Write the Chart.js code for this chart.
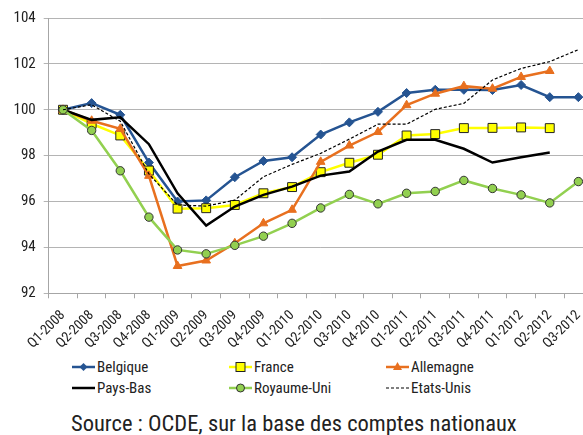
<!DOCTYPE html>
<html>
<head>
<meta charset="utf-8">
<script src="https://cdn.jsdelivr.net/npm/chart.js@4"></script>
<style>
  html, body { margin: 0; padding: 0; background: #fff; }
  body { width: 583px; height: 435px; overflow: hidden; position: relative;
         font-family: 'Liberation Sans Narrow', 'Arial Narrow', 'Roboto Condensed', sans-serif; color: #222; }
  #wrap { position: absolute; left: 0; top: 0; width: 600px; height: 352px; }
  .leg { position: absolute; font-size: 15px; line-height: 18px; white-space: nowrap; }
  .leg svg { position: absolute; left: -25px; top: 0; }
  #source { position: absolute; left: 71px; top: 410px; font-size: 22.5px; white-space: nowrap; color: #222; }
</style>
</head>
<body>
<div id="wrap"><canvas id="c" width="600" height="352"></canvas></div>

<div class="leg" style="left:97px;top:358px"><svg width="24" height="18"><line x1="0" y1="9" x2="23" y2="9" stroke="#255492" stroke-width="2.5"/><polygon points="11.5,5 15.5,9 11.5,13 7.5,9" fill="#255492"/></svg>Belgique</div>
<div class="leg" style="left:254px;top:358px"><svg width="24" height="18"><line x1="0" y1="9" x2="23" y2="9" stroke="#ffff00" stroke-width="2.5"/><rect x="7" y="4.5" width="9" height="9" fill="#ffff00" stroke="#222" stroke-width="1"/></svg>France</div>
<div class="leg" style="left:411px;top:358px"><svg width="24" height="18"><line x1="0" y1="9" x2="23" y2="9" stroke="#e8701f" stroke-width="2.5"/><polygon points="11.5,4 16,12 7,12" fill="#e8701f"/></svg>Allemagne</div>
<div class="leg" style="left:97px;top:379px"><svg width="24" height="18"><line x1="0" y1="9" x2="23" y2="9" stroke="#000" stroke-width="2.5"/></svg>Pays-Bas</div>
<div class="leg" style="left:254px;top:379px"><svg width="24" height="18"><line x1="0" y1="9" x2="23" y2="9" stroke="#92d050" stroke-width="2.5"/><circle cx="11.5" cy="9" r="4" fill="#92d050" stroke="#333" stroke-width="1"/></svg>Royaume-Uni</div>
<div class="leg" style="left:411px;top:379px"><svg width="24" height="18"><line x1="0" y1="9" x2="23" y2="9" stroke="#000" stroke-width="1.2" stroke-dasharray="3,2"/></svg>Etats-Unis</div>

<div id="source">Source : OCDE, sur la base des comptes nationaux</div>

<script>
// trimestres
const quarters = ['Q1-2008','Q2-2008','Q3-2008','Q4-2008','Q1-2009','Q2-2009','Q3-2009','Q4-2009',
  'Q1-2010','Q2-2010','Q3-2010','Q4-2010','Q1-2011','Q2-2011','Q3-2011','Q4-2011','Q1-2012','Q2-2012','Q3-2012'];

// séries (indice Q1-2008 = 100)
const belgique    = [100, 100.29, 99.78, 97.70, 96.00, 96.05, 97.06, 97.77, 97.93, 98.92, 99.45, 99.91, 100.73, 100.87, 100.87, 100.86, 101.08, 100.55, 100.55];
const france      = [100, 99.39, 98.88, 97.35, 95.69, 95.71, 95.85, 96.36, 96.63, 97.28, 97.69, 98.04, 98.88, 98.94, 99.20, 99.21, 99.23, 99.20, null];
const allemagne   = [100, 99.52, 99.17, 97.12, 93.19, 93.43, 94.18, 95.05, 95.64, 97.73, 98.44, 99.03, 100.20, 100.70, 101.03, 100.92, 101.43, 101.69, null];
const paysBas     = [100, 99.56, 99.67, 98.50, 96.36, 94.95, 95.78, 96.29, 96.65, 97.13, 97.31, 98.18, 98.69, 98.69, 98.30, 97.70, 97.93, 98.14, null];
const royaumeUni  = [100, 99.10, 97.34, 95.32, 93.89, 93.72, 94.09, 94.49, 95.05, 95.72, 96.31, 95.90, 96.36, 96.44, 96.92, 96.57, 96.29, 95.94, 96.87];
const etatsUnis   = [100, 100.22, 99.50, 97.20, 95.85, 95.80, 96.06, 97.08, 97.62, 98.10, 98.72, 99.37, 99.37, 100.02, 100.28, 101.30, 101.80, 102.10, 102.62];

const yTicks = [92, 94, 96, 98, 100, 102, 104];

const FONT = "'Liberation Sans Narrow', 'Arial Narrow', 'Roboto Condensed', sans-serif";

new Chart(document.getElementById('c'), {
  type: 'line',
  data: {
    labels: quarters,
    datasets: [
      { label: 'Belgique', data: belgique, borderColor: '#255492', backgroundColor: '#255492',
        borderWidth: 2.5, pointStyle: 'rectRot', pointRadius: 4.5, pointBorderWidth: 1, order: 6 },
      { label: 'France', data: france, borderColor: '#ffff00', backgroundColor: '#ffff00',
        pointBorderColor: '#222', borderWidth: 2.5, pointStyle: 'rect', pointRadius: 6.3, pointBorderWidth: 1, order: 5 },
      { label: 'Allemagne', data: allemagne, borderColor: '#e8701f', backgroundColor: '#e8701f',
        borderWidth: 2.5, pointStyle: 'triangle', pointRadius: 5, pointBorderWidth: 1, order: 4 },
      { label: 'Pays-Bas', data: paysBas, borderColor: '#000', backgroundColor: '#000',
        borderWidth: 2.5, pointRadius: 0, order: 3 },
      { label: 'Royaume-Uni', data: royaumeUni, borderColor: '#92d050', backgroundColor: '#92d050',
        pointBorderColor: '#333', borderWidth: 2.5, pointStyle: 'circle', pointRadius: 4.2, pointBorderWidth: 1, order: 2 },
      { label: 'Etats-Unis', data: etatsUnis, borderColor: '#000', backgroundColor: '#000',
        borderWidth: 1.2, borderDash: [3, 2], pointRadius: 0, order: 1 }
    ]
  },
  options: {
    responsive: false,
    animation: false,
    layout: { padding: { top: 18, right: 6.5, left: 0, bottom: 0 } },
    plugins: { legend: { display: false }, tooltip: { enabled: false } },
    elements: { line: { tension: 0 } },
    scales: {
      x: {
        offset: true,
        grid: { offset: true, drawOnChartArea: false, drawTicks: true, tickLength: 5, color: '#a6a6a6' },
        border: { color: '#a6a6a6', width: 1 },
        ticks: { autoSkip: false, maxRotation: 45, minRotation: 45, padding: 9,
                 color: '#222', font: { family: FONT, size: 14 } },
        afterFit: s => { s.height = 352 - 293.3; }
      },
      y: {
        min: 92, max: 104,
        afterBuildTicks: s => { s.ticks = yTicks.map(v => ({ value: v })); },
        grid: { color: '#b4b4b4', lineWidth: 1, tickLength: 5 },
        border: { color: '#a6a6a6', width: 1 },
        ticks: { padding: 8, color: '#222', font: { family: FONT, size: 15 } },
        afterFit: s => { s.width = 48.7; }
      }
    }
  }
});
</script>
</body>
</html>
